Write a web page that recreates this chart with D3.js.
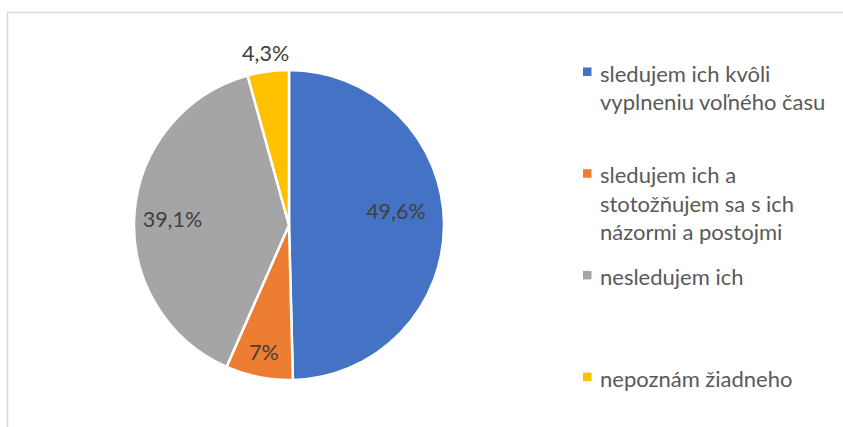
<!DOCTYPE html>
<html>
<head>
<meta charset="utf-8">
<script src="https://cdn.jsdelivr.net/npm/d3@7"></script>
<style>
  html, body { margin: 0; padding: 0; background: #fff; }
  svg { display: block; }
  text { font-family: Lato, "Open Sans", sans-serif; }
</style>
</head>
<body>
<svg id="chart" width="843" height="427"></svg>
<script>
// Survey answers and their shares (%)
const categories = [
  "sledujem ich kvôli vyplneniu voľného času",
  "sledujem ich a stotožňujem sa s ich názormi a postojmi",
  "nesledujem ich",
  "nepoznám žiadneho"
];
const values = [49.6, 7, 39.1, 4.3];
const valueLabels = ["49,6%", "7%", "39,1%", "4,3%"];
const colors = ["#4472C4", "#ED7D31", "#A5A5A5", "#FFC000"];

const W = 843, H = 427;
const svg = d3.select("#chart");

// chart-area frame (runs past the right and bottom edges)
svg.append("rect")
  .attr("x", 7.5).attr("y", 12.5)
  .attr("width", W + 20).attr("height", H + 20)
  .attr("fill", "none")
  .attr("stroke", "#d9d9d9")
  .attr("stroke-width", 1.5);

const cx = 289, cy = 225, R = 155;

const pie = d3.pie().sort(null).value(d => d.value);
const data = categories.map((c, i) => ({ name: c, value: values[i], label: valueLabels[i], color: colors[i] }));
const arcs = pie(data);

const arc = d3.arc().innerRadius(0).outerRadius(R);

const g = svg.append("g").attr("transform", `translate(${cx},${cy})`);

g.selectAll("path.slice")
  .data(arcs)
  .join("path")
  .attr("class", "slice")
  .attr("d", arc)
  .attr("fill", d => d.data.color)
  .attr("stroke", "#fff")
  .attr("stroke-width", 2.5)
  .attr("stroke-linejoin", "round");

// best-fit style label placement: radius as a fraction of R, plus an angular nudge (degrees)
const labelRadius = [0.695, 0.84, 0.753, 1.12];
const labelTurn = [-6.4, 0, -1.2, 0];

g.selectAll("text.val")
  .data(arcs)
  .join("text")
  .attr("class", "val")
  .attr("transform", (d, i) => {
    const a = (d.startAngle + d.endAngle) / 2 + labelTurn[i] * Math.PI / 180;
    const r = R * labelRadius[i];
    return `translate(${r * Math.sin(a)},${-r * Math.cos(a)})`;
  })
  .attr("text-anchor", "middle")
  .attr("dy", "0.36em")
  .attr("fill", "#404040")
  .attr("font-size", 21.5)
  .text(d => d.data.label);

// legend
const legendX = 583, legendTop = 75, slot = 101.7, lineH = 28.5, maxW = 235;
const legend = svg.append("g");

data.forEach((d, i) => {
  const y0 = legendTop + i * slot;
  legend.append("rect")
    .attr("x", legendX).attr("y", y0 - 7.5)
    .attr("width", 8.5).attr("height", 8.5)
    .attr("fill", d.color);

  const t = legend.append("text")
    .attr("x", 600)
    .attr("fill", "#595959")
    .attr("font-size", 22);

  // wrap words into lines no wider than maxW
  const words = d.name.split(" ");
  let line = [], lineNo = 0;
  let tspan = t.append("tspan").attr("x", 600).attr("y", y0).attr("dy", "0.3em");
  words.forEach(w => {
    line.push(w);
    tspan.text(line.join(" "));
    if (tspan.node().getComputedTextLength() > maxW && line.length > 1) {
      line.pop();
      tspan.text(line.join(" "));
      line = [w];
      lineNo++;
      tspan = t.append("tspan").attr("x", 600).attr("y", y0 + lineNo * lineH).attr("dy", "0.3em").text(w);
    }
  });
});
</script>
</body>
</html>
